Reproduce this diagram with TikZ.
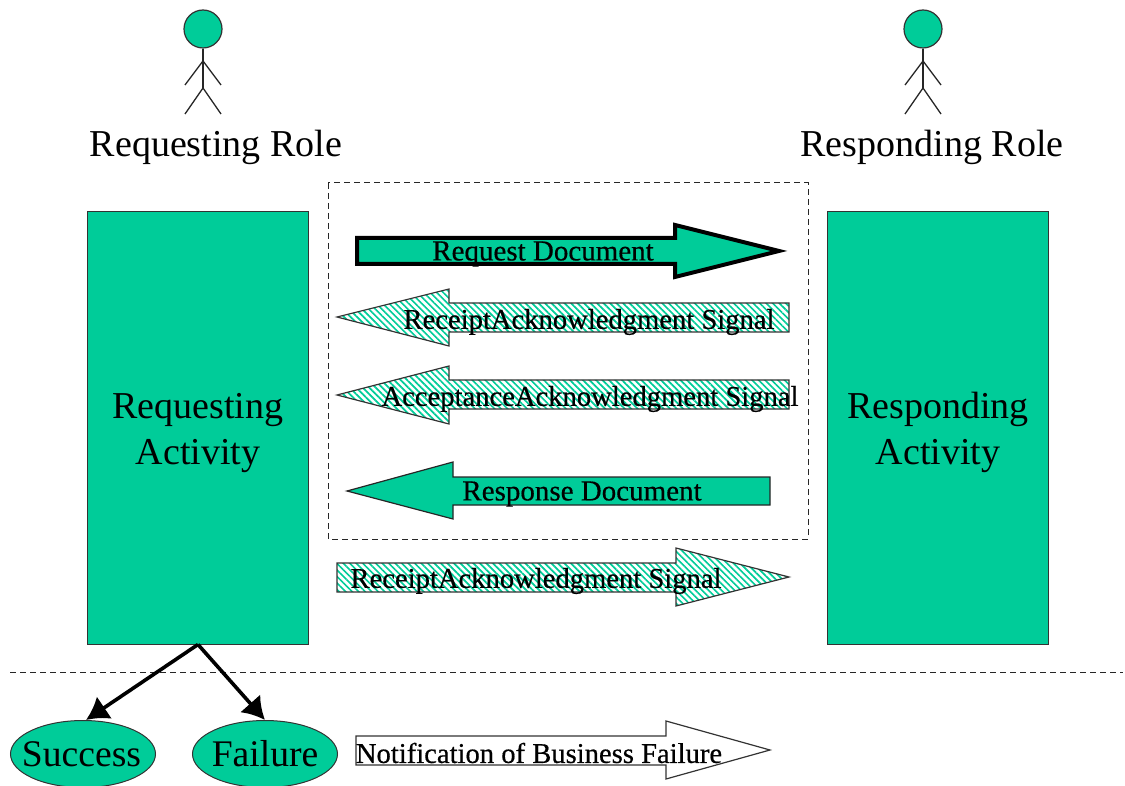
\documentclass[tikz,border=0pt]{standalone}
\usepackage{fontspec}
\setmainfont{Liberation Serif}
\newfontfamily\arrowfont{Liberation Serif}[RawFeature={embolden=0.5}]
\usetikzlibrary{arrows.meta,patterns.meta,shapes.geometric}
\definecolor{rolegreen}{HTML}{00CC99}
\tikzset{
  activity/.style={rectangle, draw=black!80, line width=1pt, fill=rolegreen, minimum width=221pt, minimum height=432pt, align=center, font=\fontsize{38}{46}\selectfont},
  outcome/.style={ellipse, draw=black!80, line width=1pt, fill=rolegreen, minimum width=145pt, minimum height=67pt, inner sep=-20pt, font=\fontsize{37.6}{40}\selectfont},
  rolehead/.style={circle, draw=black!80, line width=1.2pt, fill=rolegreen, minimum size=38pt, inner sep=0pt},
  rolename/.style={inner sep=0pt, font=\fontsize{38}{46}\selectfont},
  arrowtext/.style={inner sep=0pt, font=\arrowfont\fontsize{28.6}{32}\selectfont},
  limb/.style={line width=1.3pt, black!85},
  docarrow/.style={draw=black!85, line width=1.2pt, fill=rolegreen},
  signalarrow/.style={draw=black!80, line width=1.2pt, pattern={Lines[angle=-45,distance=4.6pt,line width=1.7pt]}, pattern color=rolegreen},
  dashline/.style={line width=1pt, black!85, dash pattern=on 6pt off 4pt},
  result/.style={line width=3.6pt, -{Latex[length=22pt,width=27pt]}}
}
\begin{document}
\begin{tikzpicture}[x=1pt,y=-1pt]
\useasboundingbox (0,0) rectangle (1125,786);
% actors
\node[rolehead] (reqhead) at (203,29){};
\coordinate (reqneck) at (203,61);
\coordinate (reqhip) at (203,88);
\coordinate (reqhandl) at (185,85);
\coordinate (reqhandr) at (221,85);
\coordinate (reqfootl) at (185,114);
\coordinate (reqfootr) at (221,114);
\draw[limb](reqhead) -- (reqhip);
\draw[limb](reqneck) -- (reqhandl);
\draw[limb](reqneck) -- (reqhandr);
\draw[limb](reqhip) -- (reqfootl);
\draw[limb](reqhip) -- (reqfootr);
\node[rolehead] (resphead) at (923,29){};
\coordinate (respneck) at (923,61);
\coordinate (resphip) at (923,88);
\coordinate (resphandl) at (905,85);
\coordinate (resphandr) at (941,85);
\coordinate (respfootl) at (905,114);
\coordinate (respfootr) at (941,114);
\draw[limb](resphead) -- (resphip);
\draw[limb](respneck) -- (resphandl);
\draw[limb](respneck) -- (resphandr);
\draw[limb](resphip) -- (respfootl);
\draw[limb](resphip) -- (respfootr);
\node[rolename] (reqrole) at (216,147){Requesting Role};
\node[rolename] (resprole) at (932,147){Responding Role};
% activities
\node[activity] (reqactivity) at (198,428){\rule{0pt}{36pt}Requesting\\Activity};
\node[activity] (respactivity) at (938,428){\rule{0pt}{36pt}Responding\\Activity};
% dashed box and the line under it
\draw[dashline] (328,183) rectangle (808,539);
\coordinate (linestart) at (10,672);
\coordinate (lineend) at (1123,672);
\draw[dashline](linestart) -- (lineend);
% block arrows
\draw[docarrow, draw=black, line width=4pt] (357,238) -- (675,238) -- (675,225) -- (779,251) -- (675,277) -- (675,264) -- (357,264) -- cycle;
\node[arrowtext, font=\arrowfont\fontsize{29}{32}\selectfont] (requestdoc) at (543,254){Request Document};
\draw[signalarrow] (789,303) -- (449,303) -- (449,289) -- (337,317) -- (449,346) -- (449,332) -- (789,332) -- cycle;
\node[arrowtext] (receiptsig) at (589,322){ReceiptAcknowledgment Signal};
\draw[signalarrow] (789,380) -- (449,380) -- (449,366) -- (337,395) -- (449,424) -- (449,409) -- (789,409) -- cycle;
\node[arrowtext] (acceptsig) at (590,399){AcceptanceAcknowledgment Signal};
\draw[docarrow] (770,477) -- (453,477) -- (453,462) -- (347,491) -- (453,519) -- (453,505) -- (770,505) -- cycle;
\node[arrowtext, font=\arrowfont\fontsize{29}{32}\selectfont] (responsedoc) at (582,494){Response Document};
\draw[signalarrow] (337,563) -- (676,563) -- (676,548) -- (789,577) -- (676,606) -- (676,592) -- (337,592) -- cycle;
\node[arrowtext] (receiptback) at (536,581){ReceiptAcknowledgment Signal};
\draw[draw=black!80, line width=1.2pt, fill=white] (356,736) -- (666,736) -- (666,721) -- (770,750) -- (666,779) -- (666,765) -- (356,765) -- cycle;
\node[arrowtext] (notifyfail) at (539,753){Notification of Business Failure};
% outcomes
\node[outcome] (success) at (83,754){\hspace*{-3pt}Success};
\node[outcome] (failure) at (265,754){Failure};
\draw[result](reqactivity.south) -- (success.85);
\draw[result](reqactivity.south) -- (failure.north);
\end{tikzpicture}
\end{document}
